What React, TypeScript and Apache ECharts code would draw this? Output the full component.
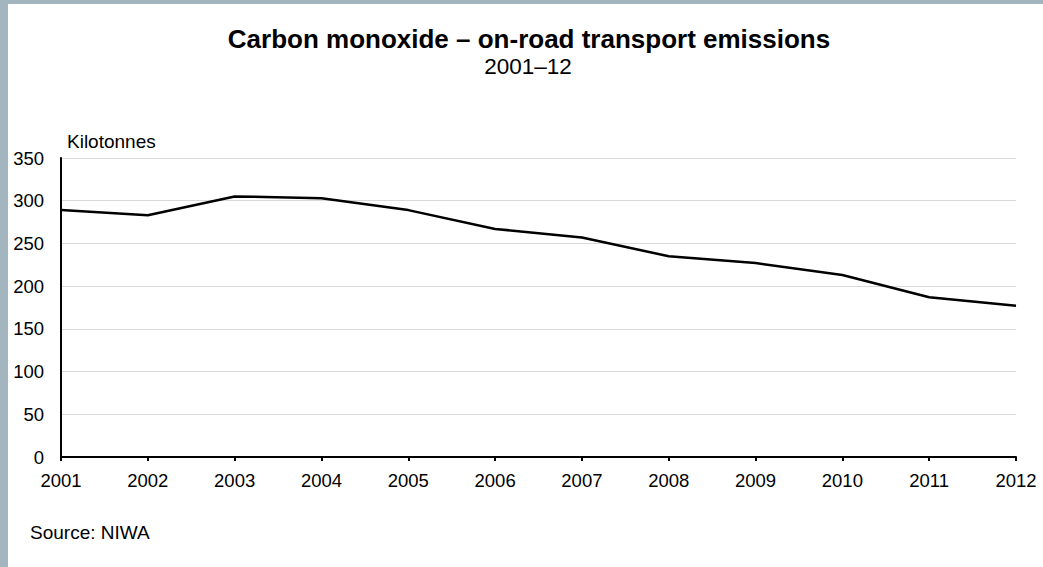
import React, { useEffect, useRef } from "react";
import * as echarts from "echarts";

const years = ["2001", "2002", "2003", "2004", "2005", "2006", "2007", "2008", "2009", "2010", "2011", "2012"];
const emissions = [289, 283, 305, 303, 289, 267, 257, 235, 227, 213, 187, 177];
const titleText = "Carbon monoxide – on-road transport emissions";
const subtitleText = "2001–12";
const unitText = "Kilotonnes";
const sourceText = "Source: NIWA";

const FONT = "'Liberation Sans', Arial, sans-serif";

export default function App() {
  const ref = useRef<HTMLDivElement>(null);
  useEffect(() => {
    if (!ref.current) return;
    const chart = echarts.init(ref.current, undefined, { renderer: "svg" });
    chart.setOption({
      animation: false,
      backgroundColor: "#ffffff",
      textStyle: { fontFamily: FONT },
      grid: { left: 61, right: 27, top: 158, bottom: 110, containLabel: false },
      xAxis: {
        type: "category",
        data: years,
        boundaryGap: false,
        axisLine: { show: true, lineStyle: { color: "#000", width: 2 } },
        axisTick: { show: true, length: 4, lineStyle: { color: "#000", width: 2 }, alignWithLabel: true },
        axisLabel: { color: "#000", fontSize: 18.5, fontFamily: FONT, margin: 14, interval: 0 },
        splitLine: { show: false },
      },
      yAxis: {
        type: "value",
        min: 0,
        max: 350,
        interval: 50,
        axisLine: { show: true, lineStyle: { color: "#000", width: 2 } },
        axisTick: { show: false },
        axisLabel: { color: "#000", fontSize: 18.5, fontFamily: FONT, margin: 17 },
        splitLine: { show: true, lineStyle: { color: "#d9d9d9", width: 1 } },
      },
      series: [
        {
          type: "line",
          data: emissions,
          symbol: "none",
          lineStyle: { color: "#000", width: 2.5 },
          z: 3,
        },
      ],
      graphic: [
        { type: "rect", shape: { x: 0, y: 0, width: 1043, height: 4 }, style: { fill: "#a3b5be" } },
        { type: "rect", shape: { x: 0, y: 0, width: 8, height: 567 }, style: { fill: "#a3b5be" } },
        {
          type: "text",
          x: 529,
          y: 39,
          style: { text: titleText, font: `bold 26px ${FONT}`, fill: "#000", textAlign: "center", textVerticalAlign: "middle" },
        },
        {
          type: "text",
          x: 528,
          y: 66,
          style: { text: subtitleText, font: `22.5px ${FONT}`, fill: "#000", textAlign: "center", textVerticalAlign: "middle" },
        },
        {
          type: "text",
          x: 67,
          y: 141,
          style: { text: unitText, font: `19px ${FONT}`, fill: "#000", textAlign: "left", textVerticalAlign: "middle" },
        },
        {
          type: "text",
          x: 30,
          y: 532,
          style: { text: sourceText, font: `19px ${FONT}`, fill: "#000", textAlign: "left", textVerticalAlign: "middle" },
        },
      ],
    });
    return () => chart.dispose();
  }, []);
  return (
    <div
      ref={ref}
      style={{ position: "fixed", left: 0, top: 0, width: 1043, height: 567 }}
    />
  );
}
